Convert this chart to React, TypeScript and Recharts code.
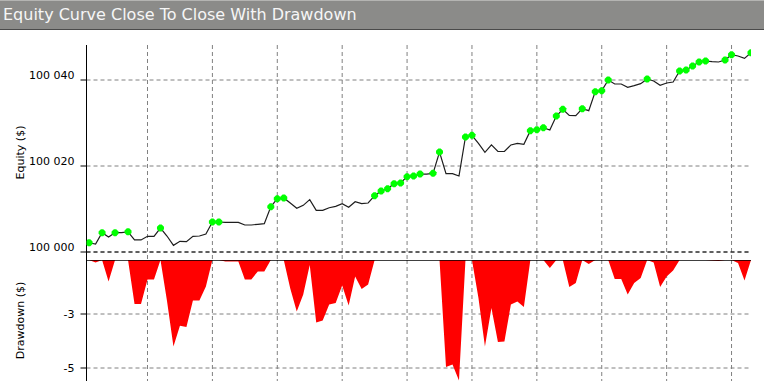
import React from 'react';
import {
  ComposedChart,
  Line,
  Area,
  XAxis,
  YAxis,
  CartesianGrid,
  ReferenceLine,
} from 'recharts';

const TITLE = 'Equity Curve Close To Close With Drawdown';

const equity = [
  100002.16, 100001.86, 100004.5, 100003.5, 100004.5, 100004.5, 100004.7, 100002.8, 100002.8, 100003.64,
  100003.64, 100005.58, 100003.72, 100001.55, 100002.48, 100002.4, 100003.64, 100003.72, 100004.19, 100006.98,
  100006.98, 100006.9, 100006.9, 100006.9, 100006.28, 100006.28, 100006.44, 100006.58, 100010.5, 100012.4,
  100012.56, 100011.4, 100010.16, 100010.85, 100012.17, 100009.69, 100009.69, 100010.3, 100010.62, 100011.24,
  100010.39, 100011.7, 100011.24, 100011.4, 100013.1, 100014.19, 100014.73, 100015.89, 100016.05, 100017.52,
  100017.67, 100018.14, 100018.1, 100018.29, 100023.26, 100018.22, 100018.22, 100017.67, 100026.74, 100027.13,
  100025.27, 100023.18, 100024.9, 100023.37, 100023.37, 100024.9, 100025.27, 100025.04, 100028.22, 100028.45,
  100028.92, 100028.37, 100031.63, 100033.18, 100031.78, 100031.7, 100033.33, 100032.87, 100037.29, 100037.52,
  100040.0, 100039.07, 100039.07, 100038.29, 100038.68, 100039.15, 100040.23, 100039.77, 100038.76, 100039.3,
  100039.53, 100042.09, 100042.33, 100043.26, 100044.19, 100044.42, 100044.26, 100044.19, 100044.65, 100045.89,
  100045.58, 100045.04, 100046.35,
];

const drawdown = [
  0, -0.12, 0, -1.08, 0, 0, 0, -2.2, -2.2, -0.97,
  -0.97, 0, -2.04, -4.32, -3.29, -3.35, -2.02, -2.02, -1.32, 0,
  0, -0.07, -0.07, -0.07, -0.97, -0.97, -0.57, -0.57, 0, 0,
  0, -1.42, -2.57, -1.73, -0.25, -3.12, -3.03, -2.23, -2.15, -1.28,
  -2.28, -0.82, -1.45, -1.23, 0, 0, 0, 0, 0, 0,
  0, 0, 0, 0, 0, -5.35, -5.23, -6.03, 0, 0,
  -1.9, -4.32, -2.4, -4.1, -4.07, -2.23, -2.07, -2.35, 0, 0,
  0, -0.4, 0, 0, -1.35, -1.15, 0, -0.2, 0, 0,
  0, -0.95, -0.95, -1.73, -1.15, -0.9, 0, -0.12, -1.35, -0.82,
  -0.52, 0, 0, 0, 0, 0, -0.03, -0.05, 0, 0,
  -0.15, -1.02, 0,
];

const newHighIdx = [
  0, 2, 4, 6, 11, 19, 20, 28, 29, 30, 44, 45, 46, 47, 48, 49, 50, 51, 53, 54,
  58, 59, 68, 69, 70, 72, 73, 76, 78, 79, 80, 86, 91, 92, 93, 94, 95, 98, 99, 102,
];

const equityTicks = [100000, 100020, 100040];
const drawdownTicks = [-2.7, -5.4];
const xGridTicks = [9, 19, 29, 39, 49, 59, 69, 79, 89, 99];

const rows = equity.map((v, i) => ({
  i,
  equity: v,
  dd: drawdown[i],
  hi: newHighIdx.includes(i),
}));

const FONT = '"DejaVu Sans", Tahoma, sans-serif';

const X_DOMAIN: [number, number] = [-0.4, 102];

const fmtEquity = (v: number) => {
  const s = String(Math.round(v));
  return s.slice(0, s.length - 3) + ' ' + s.slice(s.length - 3);
};

const verticalGen = (args: any) => {
  const { xAxis, offset } = args || {};
  const sc = xAxis && typeof xAxis.scale === 'function' ? xAxis.scale : null;
  return xGridTicks.map((t) =>
    sc
      ? sc(t)
      : offset.left + ((t - X_DOMAIN[0]) / (X_DOMAIN[1] - X_DOMAIN[0])) * offset.width,
  );
};

const EquityTick = (props: any) => {
  const { x, y, payload } = props;
  return (
    <text x={x} y={y} dy={-1} textAnchor="end" fontSize={11} fontFamily={FONT} fill="#000">
      {fmtEquity(payload.value)}
    </text>
  );
};

const DdTick = (props: any) => {
  const { x, y, payload } = props;
  return (
    <text x={x} y={y} dy={4} textAnchor="end" fontSize={11} fontFamily={FONT} fill="#000">
      {String(Math.round(payload.value))}
    </text>
  );
};

const HighDot = (props: any) => {
  const { cx, cy, payload } = props;
  if (!payload || !payload.hi || cx == null || cy == null) return <g key={props.key} />;
  const a = 3.5;
  const b = 1.2;
  const pts = [
    [cx - b, cy - a], [cx + b, cy - a], [cx + a, cy - b], [cx + a, cy + b],
    [cx + b, cy + a], [cx - b, cy + a], [cx - a, cy + b], [cx - a, cy - b],
  ].map((p) => p.join(',')).join(' ');
  return <polygon key={props.key} points={pts} fill="#00ff00" stroke="none" />;
};

export default function App() {
  return (
    <div
      style={{
        position: 'absolute',
        left: 0,
        top: 0,
        width: 764,
        height: 381,
        background: '#ffffff',
        overflow: 'hidden',
      }}
    >
      <div
        style={{
          position: 'absolute',
          left: 0,
          top: 0,
          width: 764,
          height: 28,
          background: '#8b8b89',
          borderTop: '1px solid #b4b4b2',
          borderBottom: '1px solid #4a4a4a',
          color: '#f6f6f6',
          fontFamily: FONT,
          fontSize: 16,
          lineHeight: '28px',
          paddingLeft: 3,
          boxSizing: 'content-box',
          whiteSpace: 'nowrap',
        }}
      >
        {TITLE}
      </div>

      <div style={{ position: 'absolute', left: 0, top: 0 }}>
        <ComposedChart
          width={764}
          height={260}
          data={rows}
          margin={{ top: 45, right: 13, bottom: 0, left: 0.5 }}
        >
          <CartesianGrid
            stroke="#808080"
            strokeDasharray="4 3"
            syncWithTicks
            verticalCoordinatesGenerator={verticalGen}
          />
          <XAxis
            dataKey="i"
            type="number"
            domain={X_DOMAIN}
            ticks={xGridTicks}
            interval={0}
            allowDataOverflow
            height={0}
            tick={false}
            tickLine={false}
            axisLine={false}
          />
          <YAxis
            domain={[99998.14, 100048.14]}
            ticks={equityTicks}
            interval={0}
            allowDataOverflow
            width={86}
            tickSize={6}
            tickMargin={6}
            axisLine={{ stroke: '#000', strokeWidth: 1 }}
            tickLine={{ stroke: '#000' }}
            tick={<EquityTick />}
            label={{
              value: 'Equity ($)',
              angle: -90,
              position: 'insideLeft',
              offset: 20,
              style: { textAnchor: 'middle', fontSize: 11, fontFamily: FONT, fill: '#000' },
            }}
          />
          <ReferenceLine y={100000} stroke="#000" strokeDasharray="4 3" />
          <Line
            type="linear"
            dataKey="equity"
            stroke="#1e1e1e"
            strokeWidth={1.2}
            dot={<HighDot />}
            activeDot={false}
            isAnimationActive={false}
          />
        </ComposedChart>
      </div>

      <div style={{ position: 'absolute', left: 0, top: 260 }}>
        <ComposedChart
          width={764}
          height={121}
          data={rows}
          margin={{ top: 0, right: 13, bottom: 0, left: 0.5 }}
        >
          <CartesianGrid
            stroke="#808080"
            strokeDasharray="4 3"
            syncWithTicks
            verticalCoordinatesGenerator={verticalGen}
          />
          <XAxis
            dataKey="i"
            type="number"
            domain={X_DOMAIN}
            ticks={xGridTicks}
            interval={0}
            allowDataOverflow
            height={0}
            tick={false}
            tickLine={false}
            axisLine={false}
          />
          <YAxis
            domain={[-6.05, 0]}
            ticks={drawdownTicks}
            interval={0}
            allowDataOverflow
            width={86}
            tickSize={6}
            tickMargin={6}
            axisLine={{ stroke: '#000', strokeWidth: 1 }}
            tickLine={{ stroke: '#000' }}
            tick={<DdTick />}
            label={{
              value: 'Drawdown ($)',
              angle: -90,
              position: 'insideLeft',
              offset: 20,
              style: { textAnchor: 'middle', fontSize: 11, fontFamily: FONT, fill: '#000' },
            }}
          />
          <Area
            type="linear"
            dataKey="dd"
            baseValue={0}
            fill="#ff0000"
            fillOpacity={1}
            stroke="none"
            activeDot={false}
            isAnimationActive={false}
          />
          <ReferenceLine y={0} stroke="#000" strokeWidth={1.6} ifOverflow="visible" />
        </ComposedChart>
      </div>
    </div>
  );
}
